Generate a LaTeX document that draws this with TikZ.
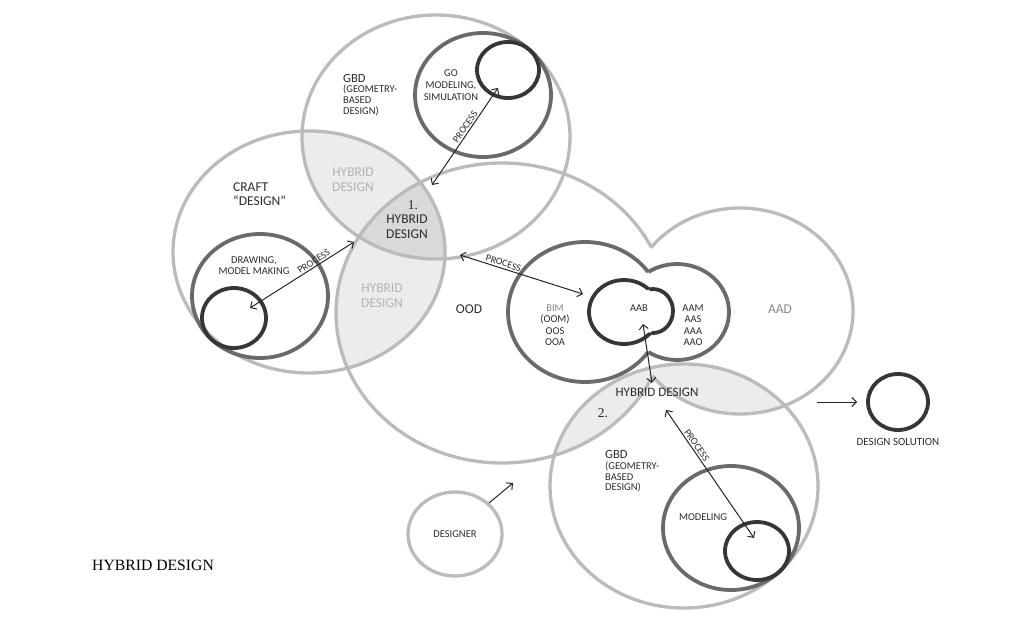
\documentclass[tikz,border=0pt]{standalone}
\usepackage{fontspec}
\setmainfont{Carlito}
\newfontfamily\serifF{Liberation Serif}
\usetikzlibrary{arrows.meta}
\definecolor{cLight}{HTML}{BBBBBB}
\definecolor{cMid}{HTML}{6A6A6A}
\definecolor{cDark}{HTML}{363636}
\definecolor{cPale}{HTML}{ECECEC}
\definecolor{cDeep}{HTML}{D9D9D9}
\definecolor{cText}{HTML}{2C2C2C}
\definecolor{cPaleText}{HTML}{B3B3B3}
\definecolor{cGrayText}{HTML}{888888}
\def\EGBD{(436,137) ellipse [x radius=134, y radius=122]}
\def\ECRAFT{(309,252) ellipse [x radius=136, y radius=121]}
\def\EOOD{(502,313) ellipse [x radius=166, y radius=150]}
\def\EAAD{(740,311) ellipse [x radius=113, y radius=103]}
\def\EGBDb{(684,486) ellipse [x radius=134, y radius=122]}
\def\EGO{(483,95) ellipse [x radius=68, y radius=62]}
\def\EGOs{(508,70) ellipse [x radius=31, y radius=28]}
\def\EDRAW{(260,296) ellipse [x radius=68, y radius=62]}
\def\EDRAWs{(234,318) ellipse [x radius=32, y radius=30]}
\def\EMOD{(731,528) ellipse [x radius=68, y radius=62]}
\def\EMODs{(757,551) ellipse [x radius=32, y radius=29]}
\def\EBIM{(585,312) ellipse [x radius=77, y radius=70]}
\def\EAAM{(677,312) ellipse [x radius=52, y radius=48]}
\def\EAABa{(624,312) ellipse [x radius=35, y radius=32]}
\def\EAABb{(653,311) ellipse [x radius=20, y radius=22]}
\def\EDES{(455,534) ellipse [x radius=47, y radius=42]}
\def\ESOL{(898,402) ellipse [x radius=30, y radius=28]}
\def\BIGR{(-20,-20) rectangle (1050,640)}
\begin{document}
\begin{tikzpicture}[x=1pt,y=-1pt,
  lightc/.style={draw=cLight, line width=3.3pt},
  midc/.style={draw=cMid, line width=3.8pt},
  darkc/.style={draw=cDark, line width=3.8pt},
  sm/.style={font=\fontsize{10.5}{11.5}\selectfont, text=cText, align=center, inner sep=0pt},
  md/.style={font=\fontsize{12.5}{14}\selectfont, text=cText, align=center, inner sep=0pt},
  bg/.style={font=\fontsize{13.5}{15}\selectfont, text=cText, align=center, inner sep=0pt},
  serifnum/.style={font=\serifF\fontsize{13.5}{15}\selectfont, text=cText, inner sep=0pt},
  arr/.style={draw=black!85, line width=1pt, >={Straight Barb[length=4.5pt,width=9pt]}},
  proc/.style={font=\fontsize{10}{11}\selectfont, text=cText, sloped, above, inner sep=1.5pt},
]
\useasboundingbox (0,0) rectangle (1024,618);
\fill[white] (0,0) rectangle (1024,618);

% shaded intersections
\begin{scope}
  \clip \ECRAFT;
  \fill[cPale] \EGBD;
  \fill[cPale] \EOOD;
  \clip \EGBD;
  \fill[cDeep] \EOOD;
\end{scope}
\begin{scope}
  \clip \EGBDb;
  \fill[cPale] \EOOD;
  \fill[cPale] \EAAD;
\end{scope}

% light outlines
\draw[lightc] \EGBD;
\draw[lightc] \ECRAFT;
\draw[lightc] \EGBDb;
\draw[lightc] \EDES;
\begin{scope}[even odd rule]
  \clip \BIGR \EAAD;
  \draw[lightc] \EOOD;
\end{scope}
\begin{scope}[even odd rule]
  \clip \BIGR \EOOD;
  \draw[lightc] \EAAD;
\end{scope}

% mid outlines
\draw[midc] \EGO;
\draw[midc] \EDRAW;
\draw[midc] \EMOD;
\begin{scope}[even odd rule]
  \clip \BIGR \EAAM;
  \draw[midc] \EBIM;
\end{scope}
\begin{scope}[even odd rule]
  \clip \BIGR \EBIM;
  \draw[midc] \EAAM;
\end{scope}

% dark outlines
\draw[darkc] \EGOs;
\draw[darkc] \EDRAWs;
\draw[darkc] \EMODs;
\draw[darkc] \ESOL;
\begin{scope}[even odd rule]
  \clip \BIGR \EAABb;
  \draw[darkc] \EAABa;
\end{scope}
\begin{scope}[even odd rule]
  \clip \BIGR \EAABa;
  \draw[darkc] \EAABb;
\end{scope}

% texts
\node[md, anchor=west] (gbdT) at (343,78) {GBD};
\node[sm, anchor=west, align=left, font=\fontsize{10.5}{11}\selectfont] (gbdS) at (343,100) {(GEOMETRY-\\BASED\\DESIGN)};
\node[sm, font=\fontsize{10.5}{12}\selectfont] (goT) at (451,85) {GO\\MODELING,\\SIMULATION};
\node[bg, anchor=west, align=left, font=\fontsize{13.5}{14.5}\selectfont] (craftT) at (233,194) {CRAFT\\“DESIGN”};
\node[bg, text=cPaleText] (hybA) at (353,180) {HYBRID\\DESIGN};
\node[serifnum] (one) at (413,205) {1.};
\node[bg] (hybB) at (407,227) {HYBRID\\DESIGN};
\node[bg, text=cPaleText] (hybC) at (382,296) {HYBRID\\DESIGN};
\node[sm, font=\fontsize{10.5}{11}\selectfont] (drawT) at (254,266) {DRAWING,\\MODEL MAKING};
\node[bg] (oodT) at (469,309) {OOD};
\node[sm] (bimT) at (555,325) {\textcolor{cGrayText}{BIM}\\(OOM)\\OOS\\OOA};
\node[sm] (aabT) at (639,308) {AAB};
\node[sm] (aamT) at (693,325) {AAM\\AAS\\AAA\\AAO};
\node[bg, text=cGrayText] (aadT) at (780,309) {AAD};
\node[md, font=\fontsize{13}{14}\selectfont] (hybD) at (657,392) {HYBRID DESIGN};
\node[serifnum] (two) at (603,413) {2.};
\node[md, anchor=west] (gbdbT) at (605,454) {GBD};
\node[sm, anchor=west, align=left, font=\fontsize{10.5}{10.8}\selectfont] (gbdbS) at (605,477) {(GEOMETRY-\\BASED\\DESIGN)};
\node[sm] (modT) at (703,517) {MODELING};
\node[sm] (desT) at (455,534) {DESIGNER};
\node[sm, font=\fontsize{11}{12}\selectfont] (solT) at (898,442) {DESIGN SOLUTION};
\node[font=\serifF\fontsize{15.7}{17}\selectfont, text=black, anchor=west, inner sep=0pt] (title) at (92,565) {HYBRID DESIGN};

% arrows
\coordinate (goA) at (498,88);
\coordinate (goB) at (432,185);
\draw[arr, <->] (goB) -- node[proc, pos=0.57] (goP) {PROCESS} (goA);
\coordinate (crA) at (250,308);
\coordinate (crB) at (354,242);
\draw[arr, <->] (crA) -- node[proc, pos=0.64] (crP) {PROCESS} (crB);
\coordinate (odA) at (460,255);
\coordinate (odB) at (583,294);
\draw[arr, <->] (odA) -- node[proc, pos=0.34] (odP) {PROCESS} (odB);
\coordinate (abA) at (643,324);
\coordinate (abB) at (652,383);
\draw[arr, <->] (abA) -- (abB);
\coordinate (gbA) at (666,410);
\coordinate (gbB) at (754,538);
\draw[arr, <->] (gbA) -- node[proc, pos=0.3] (gbP) {PROCESS} (gbB);
\coordinate (dsA) at (489,503);
\coordinate (dsB) at (513,483);
\draw[arr, ->] (dsA) -- (dsB);
\coordinate (soA) at (817,402);
\coordinate (soB) at (857,402);
\draw[arr, ->] (soA) -- (soB);
\end{tikzpicture}
\end{document}
